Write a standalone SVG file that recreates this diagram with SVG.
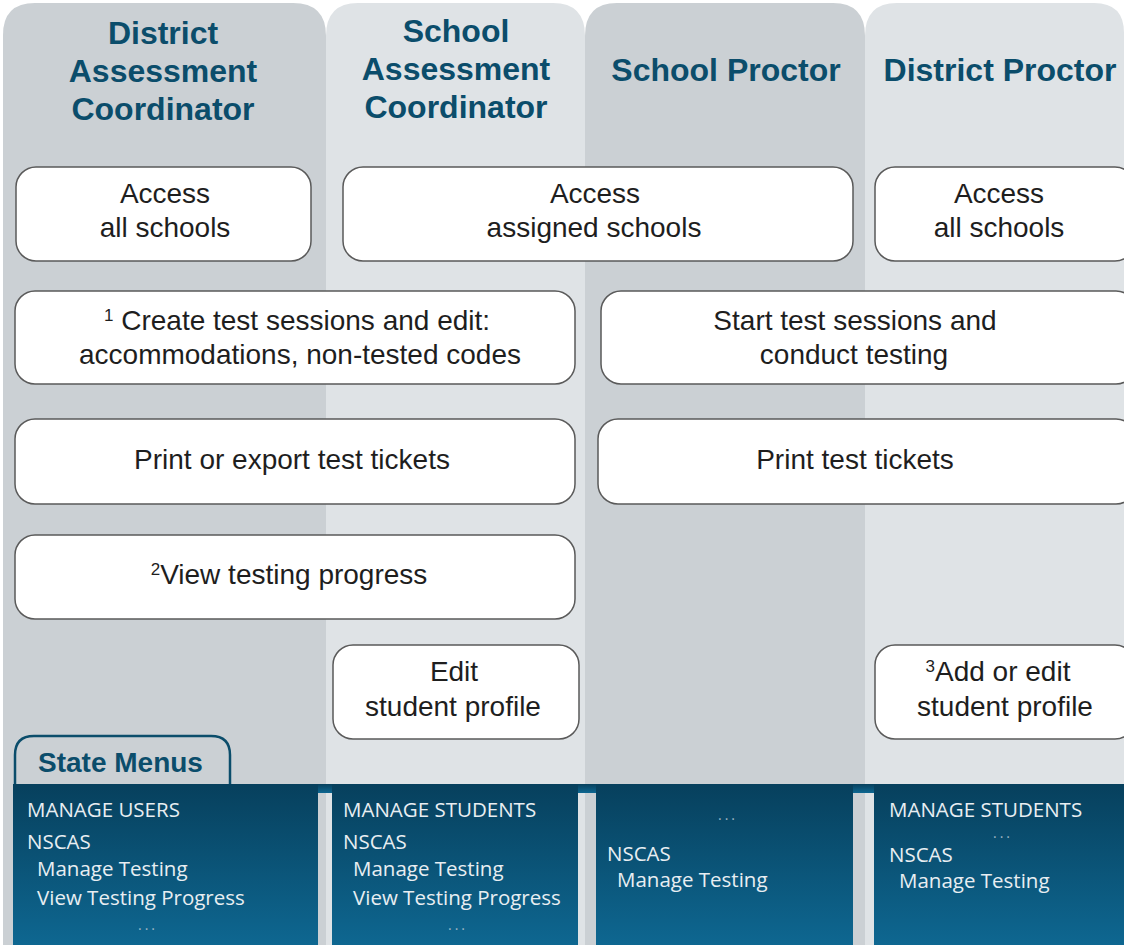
<svg xmlns="http://www.w3.org/2000/svg" width="1124" height="945" viewBox="0 0 1124 945">
  <defs>
    <linearGradient id="menuGrad" x1="0" y1="0" x2="0" y2="1">
      <stop offset="0" stop-color="#07405d"/>
      <stop offset="1" stop-color="#0e6791"/>
    </linearGradient>
    <style>
      .colDark { fill: #cbd0d4; }
      .colLight { fill: #dfe3e6; }
      .head { font-family: "Liberation Sans", Arial, sans-serif; font-weight: bold; font-size: 32px; fill: #0b4d6b; text-anchor: middle; }
      .box { fill: #ffffff; stroke: #5a5a5a; stroke-width: 1.5; }
      .lbl { font-family: "Liberation Sans", Arial, sans-serif; font-size: 28px; fill: #1e1e1e; text-anchor: middle; }
      .sup { font-size: 17px; }
      .tab { fill: #cbd0d4; stroke: #0b4d6b; stroke-width: 2.5; }
      .tabTxt { font-family: "Liberation Sans", Arial, sans-serif; font-weight: bold; font-size: 28px; fill: #0b4d6b; }
      .menu { fill: url(#menuGrad); }
      .mtxt { font-family: "Open Sans", "Noto Sans", sans-serif; font-size: 20.5px; fill: #e8eef2; }
      .dots { font-family: "Open Sans", "Noto Sans", sans-serif; font-size: 14px; fill: #9fb6c4; text-anchor: middle; letter-spacing: 3px; }
    </style>
  </defs>

  <rect width="1124" height="945" fill="#ffffff"/>

  <!-- role columns -->
  <g id="columns">
    <path class="colDark" d="M3 945 V35 Q3 3 35 3 H293 Q326 3 326 36 V945 Z"/>
    <path class="colLight" d="M326 945 V36 Q326 3 358 3 H553 Q585 3 585 36 V945 Z"/>
    <path class="colDark" d="M585 945 V36 Q585 3 617 3 H833 Q865 3 865 36 V945 Z"/>
    <path class="colLight" d="M865 945 V36 Q865 3 897 3 H1094 Q1124 3 1124 33 V945 Z"/>
  </g>

  <!-- column headings -->
  <g id="head-dac">
    <text class="head" x="163" y="44">District</text>
    <text class="head" x="163" y="82">Assessment</text>
    <text class="head" x="163" y="120">Coordinator</text>
  </g>
  <g id="head-sac">
    <text class="head" x="456" y="42">School</text>
    <text class="head" x="456" y="80">Assessment</text>
    <text class="head" x="456" y="118">Coordinator</text>
  </g>
  <g id="head-sp">
    <text class="head" x="726" y="81">School Proctor</text>
  </g>
  <g id="head-dp">
    <text class="head" x="1000" y="81">District Proctor</text>
  </g>

  <!-- task boxes -->
  <g id="access-dac">
    <rect class="box" x="16" y="167" width="295" height="94" rx="20"/>
    <text class="lbl" x="165" y="203">Access</text>
    <text class="lbl" x="165" y="237">all schools</text>
  </g>
  <g id="access-school">
    <rect class="box" x="343" y="167" width="510" height="94" rx="20"/>
    <text class="lbl" x="595" y="203">Access</text>
    <text class="lbl" x="594" y="237">assigned schools</text>
  </g>
  <g id="access-dp">
    <rect class="box" x="875" y="167" width="260" height="94" rx="20"/>
    <text class="lbl" x="999" y="203">Access</text>
    <text class="lbl" x="999" y="237">all schools</text>
  </g>
  <g id="create-sessions">
    <rect class="box" x="15" y="291" width="560" height="93" rx="20"/>
    <text class="lbl" x="297" y="330"><tspan class="sup" dy="-9">1</tspan><tspan dy="9"> Create test sessions and edit:</tspan></text>
    <text class="lbl" x="300" y="364">accommodations, non-tested codes</text>
  </g>
  <g id="start-sessions">
    <rect class="box" x="601" y="291" width="535" height="93" rx="20"/>
    <text class="lbl" x="855" y="330">Start test sessions and</text>
    <text class="lbl" x="854" y="364">conduct testing</text>
  </g>
  <g id="print-export">
    <rect class="box" x="15" y="419" width="560" height="85" rx="20"/>
    <text class="lbl" x="292" y="469">Print or export test tickets</text>
  </g>
  <g id="print-tickets">
    <rect class="box" x="598" y="419" width="538" height="85" rx="20"/>
    <text class="lbl" x="855" y="469">Print test tickets</text>
  </g>
  <g id="view-progress">
    <rect class="box" x="15" y="535" width="560" height="84" rx="20"/>
    <text class="lbl" x="289" y="584"><tspan class="sup" dy="-9">2</tspan><tspan dy="9">View testing progress</tspan></text>
  </g>
  <g id="edit-profile">
    <rect class="box" x="333" y="645" width="246" height="94" rx="20"/>
    <text class="lbl" x="454" y="681">Edit</text>
    <text class="lbl" x="453" y="716">student profile</text>
  </g>
  <g id="add-edit-profile">
    <rect class="box" x="875" y="645" width="260" height="94" rx="20"/>
    <text class="lbl" x="998" y="681"><tspan class="sup" dy="-9">3</tspan><tspan dy="9">Add or edit</tspan></text>
    <text class="lbl" x="1005" y="716">student profile</text>
  </g>

  <!-- state menus -->
  <g id="state-menus-tab">
    <path class="tab" d="M15 786 V755 Q15 736 34 736 H211 Q230 736 230 755 V786"/>
    <text class="tabTxt" x="38" y="772">State Menus</text>
  </g>

  <g id="menu-band">
    <rect class="menu" x="13" y="784" width="1111" height="9"/>
  </g>

  <g id="menu-dac">
    <rect class="menu" x="13" y="784" width="305" height="161"/>
    <text class="mtxt" x="27" y="817">MANAGE USERS</text>
    <text class="mtxt" x="27" y="849">NSCAS</text>
    <text class="mtxt" x="37" y="876">Manage Testing</text>
    <text class="mtxt" x="37" y="905">View Testing Progress</text>
    <text class="dots" x="148" y="930">...</text>
  </g>
  <g id="menu-sac">
    <rect class="menu" x="332" y="784" width="246" height="161"/>
    <text class="mtxt" x="343" y="817">MANAGE STUDENTS</text>
    <text class="mtxt" x="343" y="849">NSCAS</text>
    <text class="mtxt" x="353" y="876">Manage Testing</text>
    <text class="mtxt" x="353" y="905">View Testing Progress</text>
    <text class="dots" x="458" y="930">...</text>
  </g>
  <g id="menu-sp">
    <rect class="menu" x="596" y="784" width="257" height="161"/>
    <text class="dots" x="728" y="820">...</text>
    <text class="mtxt" x="607" y="861">NSCAS</text>
    <text class="mtxt" x="617" y="887">Manage Testing</text>
  </g>
  <g id="menu-dp">
    <rect class="menu" x="874" y="784" width="250" height="161"/>
    <text class="mtxt" x="889" y="817">MANAGE STUDENTS</text>
    <text class="dots" x="1003" y="838">...</text>
    <text class="mtxt" x="889" y="862">NSCAS</text>
    <text class="mtxt" x="899" y="888">Manage Testing</text>
  </g>
</svg>
